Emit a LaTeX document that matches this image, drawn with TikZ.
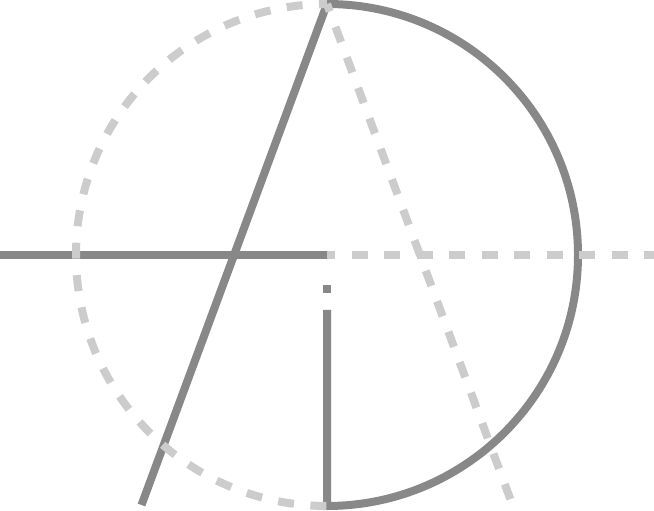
\documentclass[tikz,border=0pt]{standalone}
\usepackage{tikz}
\definecolor{darkgrey}{HTML}{888888}
\definecolor{lightgrey}{HTML}{CCCCCC}

\begin{document}
\begin{tikzpicture}[x=1pt, y=1pt,
	solidline/.style={line width=8pt, darkgrey},
	dashline/.style={line width=8pt, lightgrey, dash pattern=on 16pt off 16.5pt, dash phase=8pt}]
	\useasboundingbox (0,0) rectangle (654,511);
	\coordinate (O) at (327,256);
	\coordinate (T) at (327,507);
	\coordinate (B) at (327,5);
	
	%solid parts
	\draw[solidline] (0,256)--(O);
	\fill[darkgrey] (323,218) rectangle (331,226);
	\draw[solidline] (327,201)--(B) arc[start angle=-90, end angle=90, radius=251];
	\draw[solidline] (T)--(141.5,6);
	
	%dashed parts
	\draw[dashline] (O)--(654,256);
	\draw[dashline] (T) arc[start angle=90, end angle=270, radius=251];
	\draw[dashline] (T)--(512.5,6);
\end{tikzpicture}
\end{document}
